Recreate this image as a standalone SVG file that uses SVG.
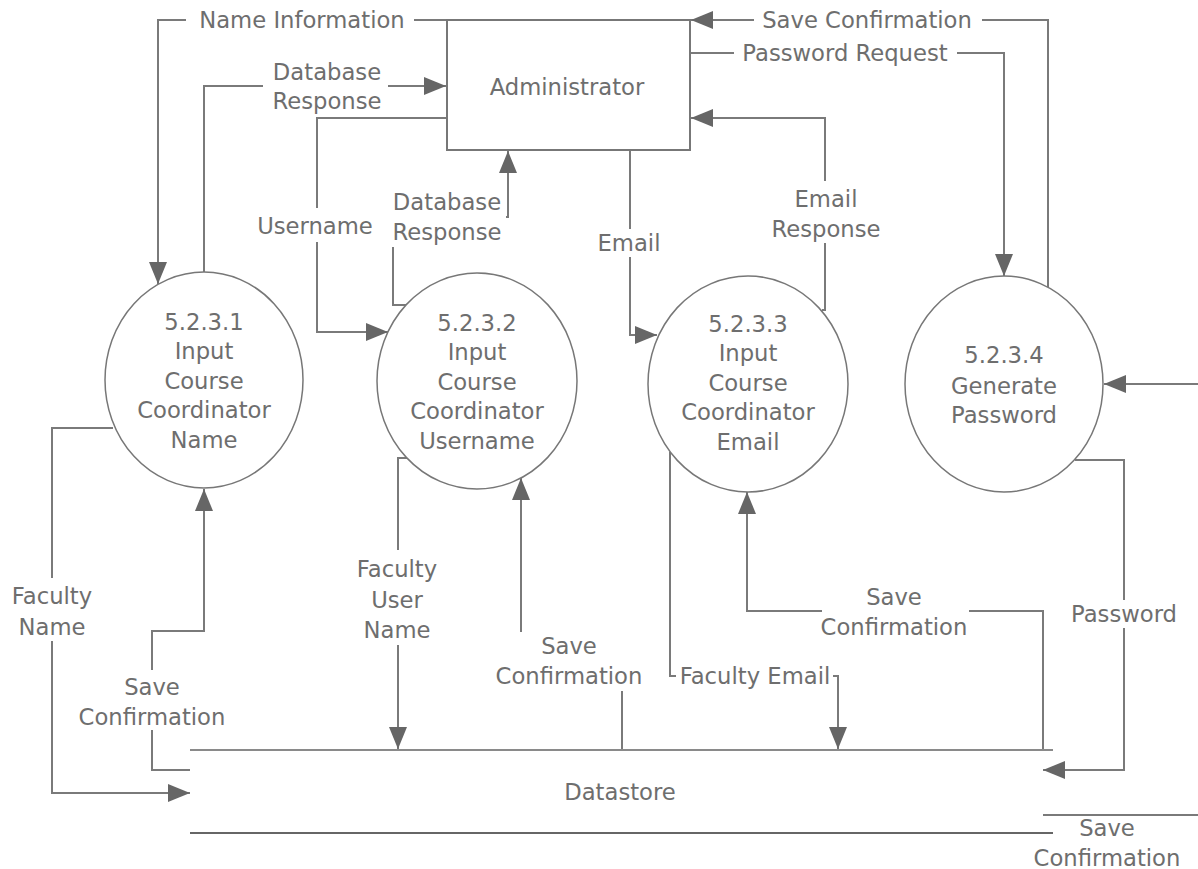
<svg xmlns="http://www.w3.org/2000/svg" width="1198" height="869" viewBox="0 0 1198 869">
<style>
.c{fill:none;stroke:#7a7a7a;stroke-width:2}
.a{marker-end:url(#ah)}
.n{fill:#fff;stroke:#777;stroke-width:1.5}
.t{font-family:"DejaVu Sans",Verdana,sans-serif;font-size:22.7px;fill:#6e6e6e;text-anchor:middle}
.bg{fill:#fff}
</style>
<defs>
<marker id="ah" markerUnits="userSpaceOnUse" markerWidth="22" markerHeight="18" refX="22" refY="9" orient="auto">
<path d="M0,0 L22,9 L0,18 z" fill="#666"/>
</marker>
</defs>
<rect width="1198" height="869" fill="#fff"/>

<g id="connectors">
<path class="c a" d="M447,20 H158 V284"/>
<path class="c a" d="M204,272 V86 H446"/>
<path class="c a" d="M446,118 H317 V332 H388"/>
<path class="c a" d="M407,305 H393 V217 H508 V151"/>
<path class="c a" d="M630,151 V335 H657"/>
<path class="c a" d="M822,310 H825 V118 H691"/>
<path class="c a" d="M1048,287 V20 H691"/>
<path class="c a" d="M690,53 H1004 V276"/>
<path class="c a" d="M1198,384 H1104"/>
<path class="c a" d="M1075,460 H1124 V770 H1043"/>
<path class="c a" d="M113,428 H52 V793 H190"/>
<path class="c a" d="M190,770 H152 V631 H204 V489"/>
<path class="c a" d="M407,458 H398 V749"/>
<path class="c a" d="M622,750 V661 H521 V478"/>
<path class="c a" d="M670,452 V676 H838 V749"/>
<path class="c a" d="M1043,750 V611 H747 V492"/>
<path class="c" d="M1043,815 H1198"/>
</g>

<g id="labels">
<rect class="bg" x="186" y="8" width="228" height="24"/>
<text class="t" x="302" y="28">Name Information</text>
<rect class="bg" x="263" y="58" width="125" height="58"/>
<text class="t" x="327" y="80">Database</text>
<text class="t" x="327" y="109">Response</text>
<rect class="bg" x="754" y="8" width="228" height="24"/>
<text class="t" x="867" y="28">Save Confirmation</text>
<rect class="bg" x="734" y="41" width="223" height="24"/>
<text class="t" x="845" y="61">Password Request</text>
<rect class="bg" x="253" y="208" width="128" height="34"/>
<text class="t" x="315" y="234">Username</text>
<rect class="bg" x="388" y="186" width="118" height="61"/>
<text class="t" x="447" y="210">Database</text>
<text class="t" x="447" y="240">Response</text>
<rect class="bg" x="600" y="229" width="60" height="28"/>
<text class="t" x="629" y="251">Email</text>
<rect class="bg" x="762" y="181" width="128" height="62"/>
<text class="t" x="826" y="207">Email</text>
<text class="t" x="826" y="237">Response</text>
<rect class="bg" x="5" y="578" width="95" height="63"/>
<text class="t" x="52" y="604">Faculty</text>
<text class="t" x="52" y="635">Name</text>
<rect class="bg" x="75" y="670" width="152" height="60"/>
<text class="t" x="152" y="695">Save</text>
<text class="t" x="152" y="725">Confirmation</text>
<rect class="bg" x="352" y="550" width="92" height="95"/>
<text class="t" x="397" y="577">Faculty</text>
<text class="t" x="397" y="608">User</text>
<text class="t" x="397" y="638">Name</text>
<rect class="bg" x="494" y="632" width="150" height="59"/>
<text class="t" x="569" y="654">Save</text>
<text class="t" x="569" y="684">Confirmation</text>
<rect class="bg" x="676" y="664" width="157" height="24"/>
<text class="t" x="755" y="684">Faculty Email</text>
<rect class="bg" x="822" y="582" width="147" height="58"/>
<text class="t" x="894" y="605">Save</text>
<text class="t" x="894" y="635">Confirmation</text>
<rect class="bg" x="1072" y="600" width="104" height="28"/>
<text class="t" x="1124" y="622">Password</text>
<text class="t" x="1107" y="836">Save</text>
<text class="t" x="1107" y="866">Confirmation</text>
</g>

<g id="administrator">
<rect x="447" y="20" width="243" height="130" fill="#fff" stroke="#777" stroke-width="2"/>
<text class="t" x="567" y="95">Administrator</text>
</g>

<g id="p5231">
<ellipse class="n" cx="204" cy="380" rx="99" ry="108"/>
<text class="t" x="204" y="330">5.2.3.1</text>
<text class="t" x="204" y="359">Input</text>
<text class="t" x="204" y="389">Course</text>
<text class="t" x="204" y="418">Coordinator</text>
<text class="t" x="204" y="448">Name</text>
</g>

<g id="p5232">
<ellipse class="n" cx="477" cy="381" rx="100" ry="108"/>
<text class="t" x="477" y="331">5.2.3.2</text>
<text class="t" x="477" y="360">Input</text>
<text class="t" x="477" y="390">Course</text>
<text class="t" x="477" y="419">Coordinator</text>
<text class="t" x="477" y="449">Username</text>
</g>

<g id="p5233">
<ellipse class="n" cx="748" cy="384" rx="100" ry="108"/>
<text class="t" x="748" y="332">5.2.3.3</text>
<text class="t" x="748" y="361">Input</text>
<text class="t" x="748" y="391">Course</text>
<text class="t" x="748" y="420">Coordinator</text>
<text class="t" x="748" y="450">Email</text>
</g>

<g id="p5234">
<ellipse class="n" cx="1004" cy="384" rx="99" ry="108"/>
<text class="t" x="1004" y="363">5.2.3.4</text>
<text class="t" x="1004" y="394">Generate</text>
<text class="t" x="1004" y="423">Password</text>
</g>

<g id="datastore">
<line x1="190" y1="750" x2="1053" y2="750" stroke="#8a8a8a" stroke-width="2"/>
<line x1="190" y1="833" x2="1053" y2="833" stroke="#666" stroke-width="2"/>
<text class="t" x="620" y="800">Datastore</text>
</g>
</svg>
